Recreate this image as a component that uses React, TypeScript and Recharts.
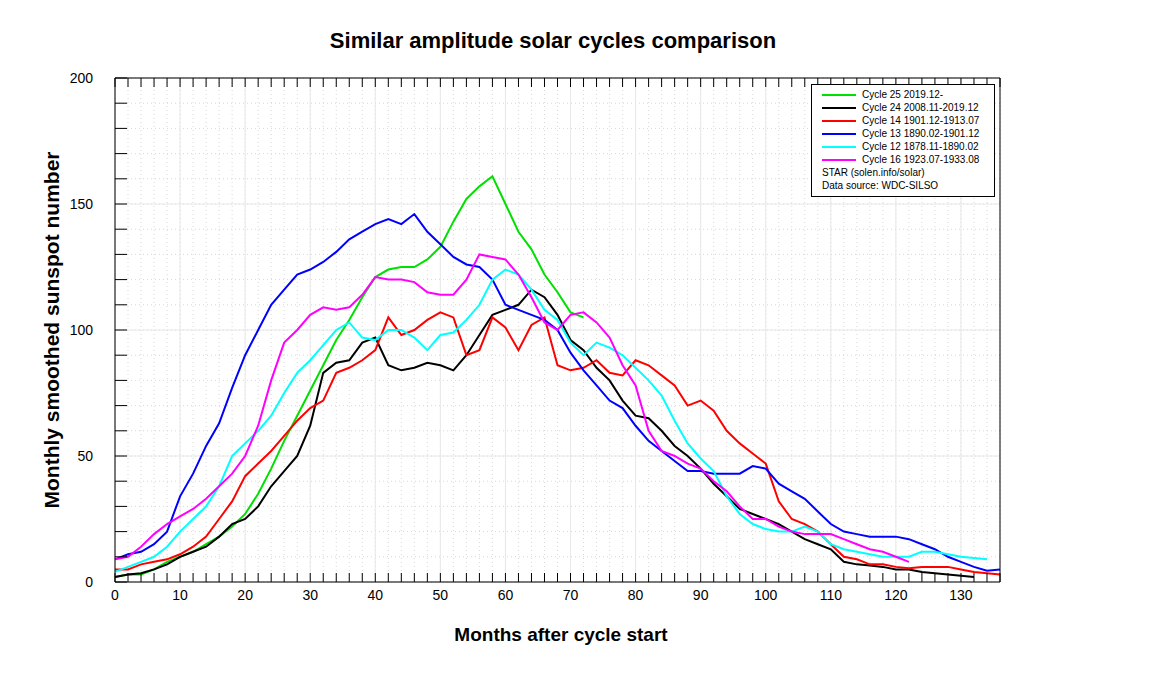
import { LineChart, Line, XAxis, YAxis, CartesianGrid, ReferenceLine } from 'recharts';

// months after cycle start, sampled every 2 months
const months = Array.from({ length: 69 }, (_, i) => i * 2);

const cycle25 = [2, 3, 3, 5, 8, 10, 12, 15, 18, 22, 27, 35, 45, 56, 66, 76, 86, 96, 104, 113, 121, 124, 125, 125, 128, 133, 143, 152, 157, 161, 150, 139, 132, 122, 115, 107, 105];
const cycle24 = [2, 3, 3.5, 5, 7, 10, 12, 14, 18, 23, 25, 30, 38, 44, 50, 62, 83, 87, 88, 95, 97, 86, 84, 85, 87, 86, 84, 90, 98, 106, 108, 110, 116, 113, 106, 96, 92, 85, 80, 72, 66, 65, 60, 54, 50, 45, 39, 34, 29, 27, 25, 23, 20, 17, 15, 13, 8, 7, 6.5, 6, 5, 5, 4, 3.5, 3, 2.5, 2];
const cycle14 = [5, 5, 7, 8, 9, 11, 14, 18, 25, 32, 42, 47, 52, 58, 64, 69, 72, 83, 85, 88, 92, 105, 98, 100, 104, 107, 105, 90, 92, 105, 101, 92, 102, 105, 86, 84, 85, 88, 83, 82, 88, 86, 82, 78, 70, 72, 68, 60, 55, 51, 47, 32, 25, 23, 20, 15, 10, 9, 7, 7, 6, 5.5, 6, 6, 6, 5, 4, 3.5, 3];
const cycle13 = [9, 11, 12, 15, 20, 34, 43, 54, 63, 77, 90, 100, 110, 116, 122, 124, 127, 131, 136, 139, 142, 144, 142, 146, 139, 134, 129, 126, 125, 120, 110, 108, 106, 104, 100, 91, 84, 78, 72, 69, 62, 56, 52, 48, 44, 44, 43, 43, 43, 46, 45, 39, 36, 33, 28, 23, 20, 19, 18, 18, 18, 17, 15, 13, 10, 8, 6, 4.5, 5];
const cycle12 = [4, 6, 8, 10, 14, 20, 25, 30, 38, 50, 55, 60, 66, 75, 83, 88, 94, 100, 103, 97, 96, 100, 100, 97, 92, 98, 99, 104, 110, 120, 124, 122, 116, 108, 104, 95, 90, 95, 93, 90, 85, 80, 74, 64, 55, 49, 44, 34, 27, 23, 21, 20, 20, 22, 20, 15, 13, 12, 11, 10, 10, 10, 12, 12, 11, 10, 9.5, 9];
const cycle16 = [9, 10, 14, 19, 23, 26, 29, 33, 38, 43, 50, 62, 80, 95, 100, 106, 109, 108, 109, 114, 121, 120, 120, 119, 115, 114, 114, 120, 130, 129, 128, 122, 113, 103, 100, 106, 107, 103, 97, 86, 78, 60, 52, 50, 47, 45, 40, 36, 30, 25, 25, 22, 20, 19, 19, 19, 17, 15, 13, 12, 10, 8];

const series = [
  { key: 'c25', name: 'Cycle 25 2019.12-', color: '#00e000', values: cycle25 },
  { key: 'c24', name: 'Cycle 24 2008.11-2019.12', color: '#000000', values: cycle24 },
  { key: 'c14', name: 'Cycle 14 1901.12-1913.07', color: '#ff0000', values: cycle14 },
  { key: 'c13', name: 'Cycle 13 1890.02-1901.12', color: '#0000ff', values: cycle13 },
  { key: 'c12', name: 'Cycle 12 1878.11-1890.02', color: '#00ffff', values: cycle12 },
  { key: 'c16', name: 'Cycle 16 1923.07-1933.08', color: '#ff00ff', values: cycle16 },
];

const xTicks = Array.from({ length: 69 }, (_, i) => i * 2);
const yTicks = Array.from({ length: 21 }, (_, i) => i * 10);
const xMajor = [0, 10, 20, 30, 40, 50, 60, 70, 80, 90, 100, 110, 120, 130];
const yMajor = [0, 50, 100, 150, 200];

const data = months.map((m, i) => {
  const row: Record<string, number | undefined> = { m };
  series.forEach((s) => (row[s.key] = s.values[i]));
  return row;
});

const font = '"Liberation Sans", Arial, sans-serif';

// inward tick marks with labels on the outside
const tickBottom = (p: any) => (
  <g>
    <line x1={p.x} x2={p.x} y1={p.y} y2={p.y - 9} stroke="#000" />
    {p.payload.value % 10 === 0 && (
      <text x={p.x} y={p.y + 18} textAnchor="middle" fontSize={14} fontFamily={font}>{p.payload.value}</text>
    )}
  </g>
);
const tickTop = (p: any) => <line x1={p.x} x2={p.x} y1={p.y} y2={p.y + 9} stroke="#000" />;
const tickLeft = (p: any) => (
  <g>
    <line x1={p.x} x2={p.x + 12} y1={p.y} y2={p.y} stroke="#000" />
    {p.payload.value % 50 === 0 && (
      <text x={p.x - 22} y={p.y + 5} textAnchor="end" fontSize={14} fontFamily={font}>{p.payload.value}</text>
    )}
  </g>
);
const tickRight = (p: any) => (
  <g>
    <line x1={p.x} x2={p.x - 12} y1={p.y} y2={p.y} stroke="#000" />
    {p.payload.value % 50 === 0 && (
      <text x={p.x + 22} y={p.y + 5} textAnchor="start" fontSize={14} fontFamily={font}>{p.payload.value}</text>
    )}
  </g>
);

export default function App() {
  return (
    <div style={{ position: 'absolute', left: 0, top: 0, width: 1169, height: 683, background: '#fff', fontFamily: font }}>
      <div style={{ position: 'absolute', left: 0, width: 1106, top: 28, textAlign: 'center', fontSize: 22, fontWeight: 'bold' }}>
        Similar amplitude solar cycles comparison
      </div>
      <LineChart width={1169} height={683} data={data} margin={{ top: 77, right: 109, left: 55, bottom: 71 }}>
        <CartesianGrid stroke="#d8d8d8" strokeDasharray="1 3" />
        {xMajor.map((v) => (
          <ReferenceLine key={'x' + v} x={v} stroke="#e8e8e8" />
        ))}
        {yMajor.map((v) => (
          <ReferenceLine key={'y' + v} y={v} stroke="#e8e8e8" />
        ))}
        <XAxis dataKey="m" type="number" domain={[0, 136]} ticks={xTicks} interval={0}
          tickLine={false} tickSize={0} tickMargin={0} tick={tickBottom} stroke="#000" height={30} />
        <XAxis xAxisId="top" orientation="top" dataKey="m" type="number" domain={[0, 136]} ticks={xTicks} interval={0}
          tickLine={false} tickSize={0} tickMargin={0} tick={tickTop} stroke="#000" height={1} />
        <YAxis domain={[0, 200]} ticks={yTicks} interval={0}
          tickLine={false} tickSize={0} tickMargin={0} tick={tickLeft} stroke="#000" width={60} />
        <YAxis yAxisId="right" orientation="right" domain={[0, 200]} ticks={yTicks} interval={0}
          tickLine={false} tickSize={0} tickMargin={0} tick={tickRight} stroke="#000" width={60} />
        {series.map((s) => (
          <Line key={s.key} dataKey={s.key} stroke={s.color} strokeWidth={2} dot={false} type="linear" isAnimationActive={false} />
        ))}
      </LineChart>
      <div style={{ position: 'absolute', left: 561, width: 0, top: 624 }}>
        <div style={{ position: 'absolute', transform: 'translateX(-50%)', whiteSpace: 'nowrap', fontSize: 19, fontWeight: 'bold' }}>
          Months after cycle start
        </div>
      </div>
      <div style={{ position: 'absolute', left: 52, top: 330, width: 0, height: 0 }}>
        <div style={{ position: 'absolute', transform: 'translate(-50%,-50%) rotate(-90deg)', whiteSpace: 'nowrap', fontSize: 21, fontWeight: 'bold' }}>
          Monthly smoothed sunspot number
        </div>
      </div>
      <div style={{ position: 'absolute', left: 811, top: 84, width: 184, height: 113, border: '1px solid #000', background: '#fff', fontSize: 10, lineHeight: '13px', padding: '3px 0 0 10px', boxSizing: 'border-box' }}>
        {series.map((s) => (
          <div key={s.key} style={{ display: 'flex', alignItems: 'center' }}>
            <span style={{ display: 'inline-block', width: 34, height: 2, background: s.color, marginRight: 6 }} />
            {s.name}
          </div>
        ))}
        <div>STAR (solen.info/solar)</div>
        <div>Data source: WDC-SILSO</div>
      </div>
    </div>
  );
}
